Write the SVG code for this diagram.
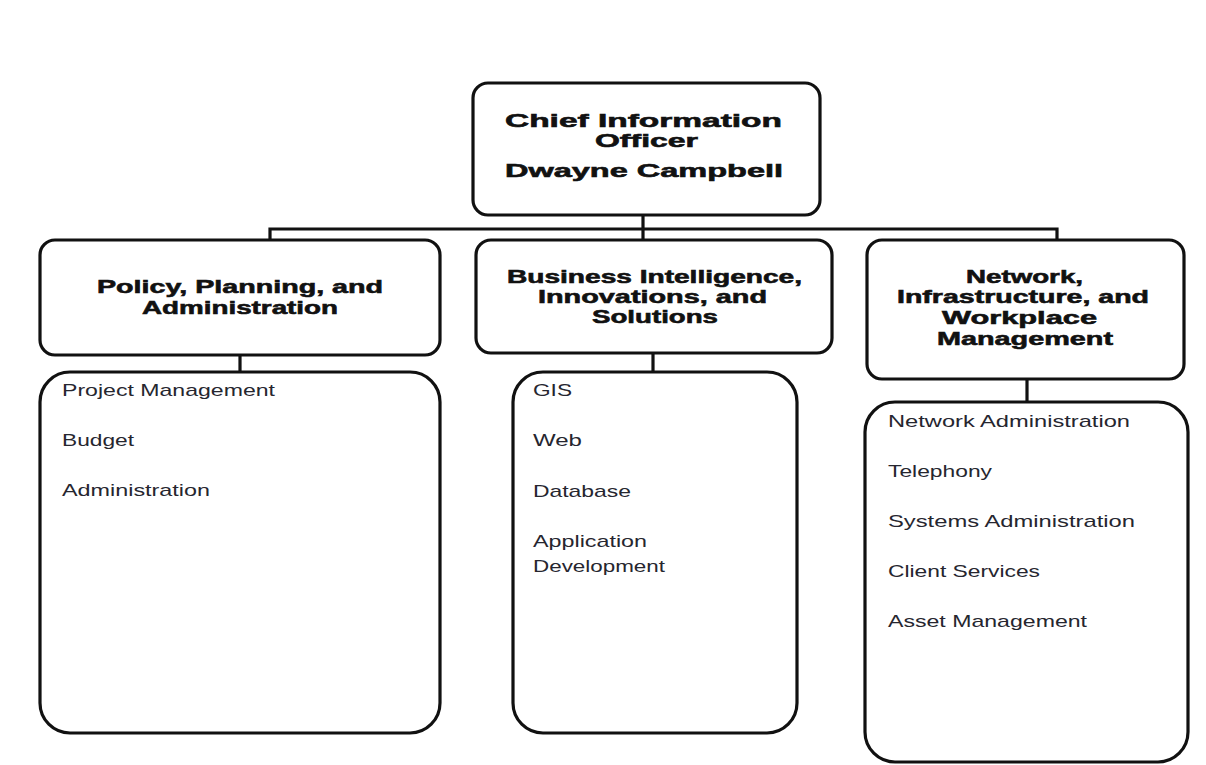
<svg xmlns="http://www.w3.org/2000/svg" width="1206" height="765" viewBox="0 0 1206 765">
  <style>
    .box { fill: #ffffff; stroke: #111111; stroke-width: 3.2; }
    .link { fill: none; stroke: #111111; stroke-width: 3.2; }
    .title { font-family: "Liberation Sans", Arial, sans-serif; font-weight: bold; font-size: 19px; fill: #111111; stroke: #111111; stroke-width: 0.6; }
    .item { font-family: "Liberation Sans", Arial, sans-serif; font-size: 17px; fill: #26262f; }
  </style>
  <rect width="1206" height="765" fill="#ffffff"/>

  <!-- connectors -->
  <g id="connectors">
    <path class="link" d="M643 215 V240"/>
    <path class="link" d="M270 240 V229 H1057 V240"/>
    <path class="link" d="M240 355 V372"/>
    <path class="link" d="M653 353 V372"/>
    <path class="link" d="M1027 379 V402"/>
  </g>

  <!-- chief information officer -->
  <g id="cio">
    <rect class="box" x="473" y="83" width="347" height="132" rx="15" ry="15"/>
    <text class="title" x="505" y="127" textLength="277" lengthAdjust="spacingAndGlyphs">Chief Information</text>
    <text class="title" x="595" y="147" textLength="103" lengthAdjust="spacingAndGlyphs">Officer</text>
    <text class="title" x="505" y="177" textLength="278" lengthAdjust="spacingAndGlyphs">Dwayne Campbell</text>
  </g>

  <!-- policy, planning, and administration -->
  <g id="policy">
    <rect class="box" x="40" y="240" width="400" height="115" rx="15" ry="15"/>
    <text class="title" x="97" y="293" textLength="286" lengthAdjust="spacingAndGlyphs">Policy, Planning, and</text>
    <text class="title" x="142" y="314" textLength="196" lengthAdjust="spacingAndGlyphs">Administration</text>
  </g>
  <g id="policy-units">
    <rect class="box" x="40" y="372" width="400" height="361" rx="30" ry="30"/>
    <text class="item" x="62" y="396" textLength="213" lengthAdjust="spacingAndGlyphs">Project Management</text>
    <text class="item" x="62" y="446" textLength="72" lengthAdjust="spacingAndGlyphs">Budget</text>
    <text class="item" x="62" y="496" textLength="148" lengthAdjust="spacingAndGlyphs">Administration</text>
  </g>

  <!-- business intelligence, innovations, and solutions -->
  <g id="business">
    <rect class="box" x="476" y="240" width="356" height="113" rx="15" ry="15"/>
    <text class="title" x="507" y="283" textLength="295" lengthAdjust="spacingAndGlyphs">Business Intelligence,</text>
    <text class="title" x="538" y="303" textLength="229" lengthAdjust="spacingAndGlyphs">Innovations, and</text>
    <text class="title" x="592" y="323" textLength="126" lengthAdjust="spacingAndGlyphs">Solutions</text>
  </g>
  <g id="business-units">
    <rect class="box" x="513" y="372" width="284" height="361" rx="30" ry="30"/>
    <text class="item" x="533" y="396" textLength="39" lengthAdjust="spacingAndGlyphs">GIS</text>
    <text class="item" x="533" y="446" textLength="49" lengthAdjust="spacingAndGlyphs">Web</text>
    <text class="item" x="533" y="497" textLength="98" lengthAdjust="spacingAndGlyphs">Database</text>
    <text class="item" x="533" y="547" textLength="114" lengthAdjust="spacingAndGlyphs">Application</text>
    <text class="item" x="533" y="572" textLength="132" lengthAdjust="spacingAndGlyphs">Development</text>
  </g>

  <!-- network, infrastructure, and workplace management -->
  <g id="network">
    <rect class="box" x="867" y="240" width="317" height="139" rx="15" ry="15"/>
    <text class="title" x="966" y="283" textLength="117" lengthAdjust="spacingAndGlyphs">Network,</text>
    <text class="title" x="897" y="303" textLength="252" lengthAdjust="spacingAndGlyphs">Infrastructure, and</text>
    <text class="title" x="942" y="324" textLength="155" lengthAdjust="spacingAndGlyphs">Workplace</text>
    <text class="title" x="937" y="345" textLength="176" lengthAdjust="spacingAndGlyphs">Management</text>
  </g>
  <g id="network-units">
    <rect class="box" x="865" y="402" width="323" height="360" rx="30" ry="30"/>
    <text class="item" x="888" y="427" textLength="242" lengthAdjust="spacingAndGlyphs">Network  Administration</text>
    <text class="item" x="888" y="477" textLength="104" lengthAdjust="spacingAndGlyphs">Telephony</text>
    <text class="item" x="888" y="527" textLength="247" lengthAdjust="spacingAndGlyphs">Systems Administration</text>
    <text class="item" x="888" y="577" textLength="152" lengthAdjust="spacingAndGlyphs">Client Services</text>
    <text class="item" x="888" y="627" textLength="199" lengthAdjust="spacingAndGlyphs">Asset Management</text>
  </g>
</svg>
